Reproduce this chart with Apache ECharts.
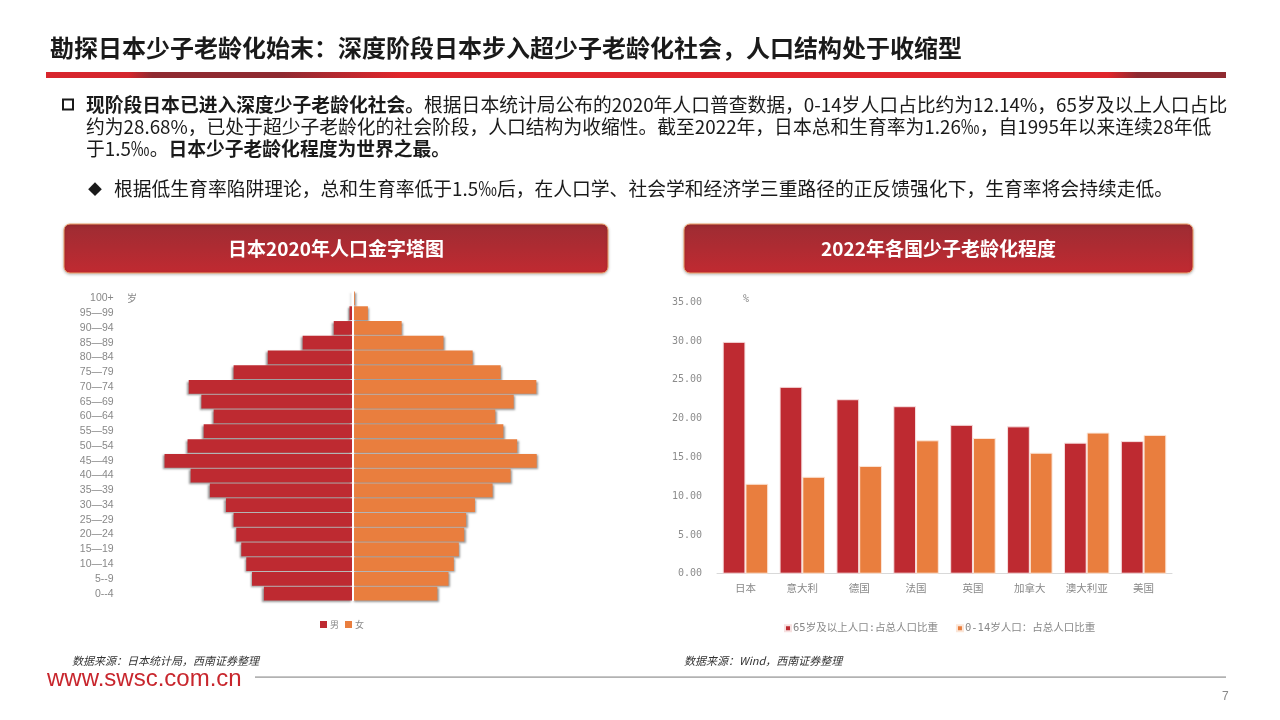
<!DOCTYPE html>
<html><head><meta charset="utf-8">
<script src="https://cdn.jsdelivr.net/npm/echarts@6/dist/echarts.min.js"></script>
<style>html,body{margin:0;padding:0;background:#fff;}#c{width:1280px;height:720px;}</style>
</head><body><div id="c"></div>
<script>
// ---- data ----
const ageGroups = ['100+','95—99','90—94','85—89','80—84','75—79','70—74','65—69','60—64','55—59','50—54','45—49','40—44','35—39','30—34','25—29','20—24','15—19','10—14','5--9','0--4'];
const maleValues = [1,8,49,130,221,310,427,394,362,388,430,490,422,372,330,310,303,290,277,262,231];
const femaleValues = [6,40,128,237,313,386,479,420,372,393,429,480,412,365,319,296,291,277,264,250,221];
const sexNames = ['男','女'];

const countries = ['日本','意大利','德国','法国','英国','加拿大','澳大利亚','美国'];
const elderlyShare = [29.9,24.1,22.5,21.6,19.2,19.0,16.9,17.1];
const childShare = [11.6,12.5,13.9,17.2,17.5,15.6,18.2,17.9];
const shareNames = ['65岁及以上人口:占总人口比重','0-14岁人口：占总人口比重'];

const RED = '#BE2A31', ORANGE = '#E97E3E';
const CJK = '"Noto Sans CJK SC"';
const MONO = '"DejaVu Sans Mono","Noto Sans CJK SC"';

function txt(x, y, text, font, fill, align, extra) {
  return Object.assign({
    type: 'text', x: x, y: y, silent: true,
    style: Object.assign({
      text: text, font: font, fill: fill,
      align: align || 'left', textAlign: align || 'left',
      verticalAlign: 'middle', textVerticalAlign: 'middle'
    }, extra || {})
  });
}

const chart = echarts.init(document.getElementById('c'));
const BODY_SIZE = 18.8;
const bodyFont = BODY_SIZE + 'px ' + CJK;
const boldRich = { b: { fontWeight: 'bold', fontSize: BODY_SIZE, fontFamily: 'Noto Sans CJK SC', fill: '#1a1a1a' } };

function banner(x, w, label) {
  return {
    type: 'group', x: x, y: 224, silent: true,
    children: [
      { type: 'rect', shape: { x: 0, y: 0, width: w, height: 49, r: 6 },
        style: { fill: new echarts.graphic.LinearGradient(0, 0, 0, 1, [{offset:0,color:'#9d2c33'},{offset:1,color:'#c12a31'}]),
                 stroke: '#f0a46c', lineWidth: 1, shadowBlur: 3, shadowColor: 'rgba(0,0,0,0.25)', shadowOffsetY: 1 } },
      txt(w / 2, 24.5, label, 'bold 19px ' + CJK, '#ffffff', 'center')
    ]
  };
}

const option = {
  backgroundColor: '#ffffff',
  animation: false,
  graphic: [
    txt(50, 48, '勘探日本少子老龄化始末：深度阶段日本步入超少子老龄化社会，人口结构处于收缩型', 'bold 24px ' + CJK, '#1a1a1a'),
    { type: 'rect', silent: true, shape: { x: 46, y: 72, width: 1180, height: 6 },
      style: { fill: new echarts.graphic.LinearGradient(0, 0, 1, 0, [
        {offset:0,color:'#d8262d'},{offset:0.07,color:'#d4262d'},{offset:0.09,color:'#8f2a31'},
        {offset:0.2,color:'#8f2a31'},{offset:0.3,color:'#e0262c'},{offset:0.9,color:'#e0262c'},
        {offset:0.925,color:'#8f2a31'},{offset:1,color:'#8f2a31'}]) } },
    { type: 'rect', silent: true, shape: { x: 63, y: 99.5, width: 10, height: 10 },
      style: { fill: 'none', stroke: '#1a1a1a', lineWidth: 2 } },
    txt(86, 105, '{b|现阶段日本已进入深度少子老龄化社会。}根据日本统计局公布的2020年人口普查数据，0-14岁人口占比约为12.14%，65岁及以上人口占比', bodyFont, '#1a1a1a', 'left', { rich: boldRich }),
    txt(86, 127, '约为28.68%，已处于超少子老龄化的社会阶段，人口结构为收缩性。截至2022年，日本总和生育率为1.26‰，自1995年以来连续28年低', bodyFont, '#1a1a1a'),
    txt(86, 149, '于1.5‰。{b|日本少子老龄化程度为世界之最。}', bodyFont, '#1a1a1a', 'left', { rich: boldRich }),
    txt(88, 189, '◆', '14px ' + CJK, '#1a1a1a'),
    txt(114, 189, '根据低生育率陷阱理论，总和生育率低于1.5‰后，在人口学、社会学和经济学三重路径的正反馈强化下，生育率将会持续走低。', bodyFont, '#1a1a1a'),
    banner(64, 544, '日本2020年人口金字塔图'),
    banner(684, 509, '2022年各国少子老龄化程度'),
    txt(127, 298, '岁', '10px ' + CJK, '#888888'),
    txt(743, 299, '%', '10px ' + MONO, '#888888'),
    txt(72, 661, '数据来源：日本统计局，西南证券整理', 'italic 11px ' + CJK, '#333333'),
    txt(684, 661, '数据来源：Wind，西南证券整理', 'italic 11px ' + CJK, '#333333'),
    txt(47, 679, 'www.swsc.com.cn', '24px "Liberation Sans"', '#c8262d'),
    { type: 'rect', silent: true, shape: { x: 255, y: 676, width: 971, height: 2 },
      style: { fill: new echarts.graphic.LinearGradient(0, 0, 0, 1, [{offset:0,color:'#d0d0d0'},{offset:1,color:'#a8a8a8'}]) } },
    txt(1222, 697, '7', '12px "Liberation Sans"', '#888888')
  ],
  legend: [
    { data: sexNames, left: 315, top: 615, itemWidth: 7, itemHeight: 7, itemGap: 6, icon: 'rect',
      textStyle: { fontSize: 9, color: '#888', fontFamily: 'Noto Sans CJK SC', padding: [0,0,0,-2] } },
    { data: shareNames, left: 779, top: 618, itemWidth: 6, itemHeight: 6, itemGap: 18, icon: 'rect',
      textStyle: { fontSize: 10.5, color: '#888', fontFamily: MONO, padding: [0,0,0,-3] } }
  ],
  grid: [
    { left: 160.7, width: 383.7, top: 291, height: 310, containLabel: false },
    { left: 717, right: 108, top: 302.3, bottom: 146.3, containLabel: false }
  ],
  xAxis: [
    { gridIndex: 0, type: 'value', min: -500, max: 500, show: false },
    { gridIndex: 1, type: 'category', data: countries,
      axisLine: { lineStyle: { color: '#d9d9d9', width: 1 } }, axisTick: { show: false },
      axisLabel: { color: '#888', fontSize: 10.5, margin: 9, fontFamily: 'Noto Sans CJK SC' } }
  ],
  yAxis: [
    { gridIndex: 0, type: 'category', data: ageGroups, inverse: true,
      axisLine: { show: false }, axisTick: { show: false }, splitLine: { show: false },
      axisLabel: { color: '#888', fontSize: 10.5, margin: 47, fontFamily: 'Liberation Sans' } },
    { gridIndex: 1, type: 'value', min: 0, max: 35, interval: 5,
      axisLine: { show: false }, axisTick: { show: false }, splitLine: { show: false },
      axisLabel: { color: '#8c8c8c', fontSize: 10, margin: 15, fontFamily: 'DejaVu Sans Mono',
        formatter: v => v.toFixed(2) } }
  ],
  series: [
    { name: sexNames[0], type: 'bar', xAxisIndex: 0, yAxisIndex: 0, stack: 'pop',
      data: maleValues.map(v => -v), barCategoryGap: '7%',
      itemStyle: { color: RED, shadowBlur: 2, shadowColor: 'rgba(0,0,0,0.4)', shadowOffsetX: -1.5, shadowOffsetY: 1.5 } },
    { name: sexNames[1], type: 'bar', xAxisIndex: 0, yAxisIndex: 0, stack: 'pop',
      data: femaleValues, barCategoryGap: '7%',
      itemStyle: { color: ORANGE, shadowBlur: 2, shadowColor: 'rgba(0,0,0,0.4)', shadowOffsetX: 1.5, shadowOffsetY: 1.5 },
      markLine: { silent: true, symbol: ['none','none'], label: { show: false },
        lineStyle: { color: '#ffffff', width: 2, type: 'solid' }, data: [{ xAxis: 0 }] } },
    { name: shareNames[0], type: 'bar', xAxisIndex: 1, yAxisIndex: 1, data: elderlyShare,
      barGap: '0%', barCategoryGap: '20%',
      itemStyle: { color: RED, borderColor: '#f6e0e0', borderWidth: 1 } },
    { name: shareNames[1], type: 'bar', xAxisIndex: 1, yAxisIndex: 1, data: childShare,
      barGap: '0%', barCategoryGap: '20%',
      itemStyle: { color: ORANGE, borderColor: '#fbe6d8', borderWidth: 1 } }
  ]
};
chart.setOption(option);
</script>
</body></html>
